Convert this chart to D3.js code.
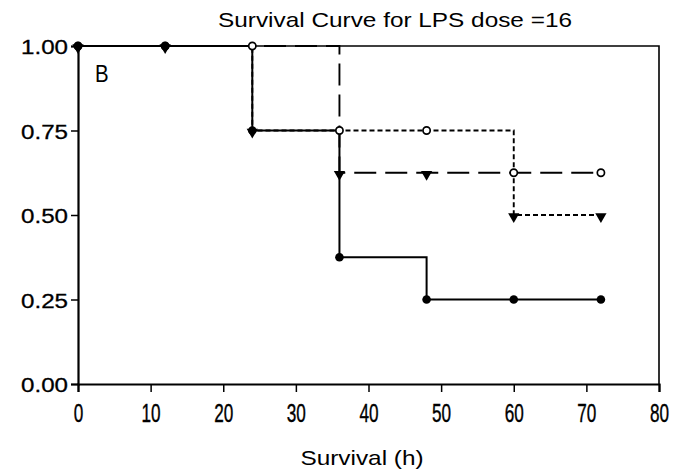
<!DOCTYPE html>
<html>
<head>
<meta charset="utf-8">
<script src="https://cdn.jsdelivr.net/npm/d3@7"></script>
<style>
  body { margin: 0; background: #fff; }
  text { font-family: "Liberation Sans", Arial, sans-serif; fill: #000; }
</style>
</head>
<body>
<svg id="chart"></svg>
<script>
// time points (h)
var times = [0, 12, 24, 36, 48, 60, 72];

// survival fraction for each curve
var survSolid     = [1, 1, 0.75, 0.375, 0.25, 0.25, 0.25];
var survLongDash  = [1, 1, 1, 0.625, 0.625, 0.625, 0.625];
var survShortDash = [1, 1, 0.75, 0.75, 0.75, 0.5, 0.5];

// marker drawn at each point
var markSolid     = ["dot", "dot", "dot", "dot", "dot", "dot", "dot"];
var markLongDash  = ["open", "open", "open", "tri", "tri", "open", "open"];
var markShortDash = ["tri", "tri", "tri", "open", "open", "tri", "tri"];

var xTicks = [0, 10, 20, 30, 40, 50, 60, 70, 80];
var yTicks = [0, 0.25, 0.5, 0.75, 1];

var width = 684, height = 473;
var margin = {top: 46, right: 25, bottom: 89, left: 78};
var w = width - margin.left - margin.right,
    h = height - margin.top - margin.bottom;

var svg = d3.select("#chart")
  .attr("width", width)
  .attr("height", height);

var g = svg.append("g")
  .attr("transform", "translate(" + margin.left + "," + margin.top + ")");

var x = d3.scaleLinear().domain([0, 80]).range([0, w]);
var y = d3.scaleLinear().domain([0, 1]).range([h, 0]);

// frame top and right
g.append("path")
  .attr("d", "M0,0H" + w + "V" + h)
  .attr("fill", "none")
  .attr("stroke", "#000")
  .attr("stroke-width", 1.6);

// axes
var xAxis = g.append("g")
  .attr("transform", "translate(0," + h + ")")
  .call(d3.axisBottom(x).tickValues(xTicks).tickSize(8).tickFormat(d3.format("d")));
var yAxis = g.append("g")
  .call(d3.axisLeft(y).tickValues(yTicks).tickSize(7).tickFormat(d3.format(".2f")));

[xAxis, yAxis].forEach(function(a) {
  a.select(".domain").attr("stroke-width", 2.2);
  a.selectAll(".tick line").attr("stroke-width", 1.5);
});

xAxis.selectAll(".tick text")
  .attr("font-size", 26)
  .attr("y", 0)
  .attr("dy", 0)
  .attr("stroke", "#000")
  .attr("stroke-width", 0.4)
  .attr("transform", "translate(0,38) scale(0.66,1)");

yAxis.selectAll(".tick text")
  .attr("font-size", 21)
  .attr("x", 0)
  .attr("dy", "0.36em")
  .attr("stroke", "#000")
  .attr("stroke-width", 0.3)
  .attr("transform", "translate(-10,0) scale(1.15,1)");

// curves
var curves = [
  {surv: survLongDash,  marks: markLongDash,  dash: "22,9", sw: 1.9},
  {surv: survShortDash, marks: markShortDash, dash: "5,3",  sw: 1.9},
  {surv: survSolid,     marks: markSolid,     dash: null,   sw: 2}
];

var line = d3.line()
  .x(function(d) { return x(d[0]); })
  .y(function(d) { return y(d[1]); })
  .curve(d3.curveStepAfter);

curves.forEach(function(c) {
  var pts = times.map(function(t, i) { return [t, c.surv[i], c.marks[i]]; });
  c.pts = pts;
  g.append("path")
    .datum(pts)
    .attr("d", line)
    .attr("fill", "none")
    .attr("stroke", "#000")
    .attr("stroke-width", c.sw)
    .attr("stroke-dasharray", c.dash);
});

var allPts = [];
curves.forEach(function(c) { allPts = allPts.concat(c.pts); });

// open circles first, then triangles, then filled dots
g.selectAll(".open")
  .data(allPts.filter(function(d) { return d[2] === "open"; }))
  .enter().append("circle")
  .attr("class", "open")
  .attr("cx", function(d) { return x(d[0]); })
  .attr("cy", function(d) { return y(d[1]); })
  .attr("r", 3.6)
  .attr("fill", "#fff")
  .attr("stroke", "#000")
  .attr("stroke-width", 1.7);

var tri = d3.symbol().type(d3.symbolTriangle).size(55);
g.selectAll(".tri")
  .data(allPts.filter(function(d) { return d[2] === "tri"; }))
  .enter().append("path")
  .attr("class", "tri")
  .attr("d", tri)
  .attr("transform", function(d) {
    return "translate(" + x(d[0]) + "," + (y(d[1]) + 1.5) + ") rotate(180)";
  })
  .attr("fill", "#000");

g.selectAll(".dot")
  .data(allPts.filter(function(d) { return d[2] === "dot"; }))
  .enter().append("circle")
  .attr("class", "dot")
  .attr("cx", function(d) { return x(d[0]); })
  .attr("cy", function(d) { return y(d[1]); })
  .attr("r", 4.3)
  .attr("fill", "#000");

// panel letter
g.append("text")
  .attr("transform", "translate(17,36) scale(0.85,1)")
  .attr("font-size", 24)
  .text("B");

// title
svg.append("text")
  .attr("transform", "translate(395,27) scale(1.16,1)")
  .attr("text-anchor", "middle")
  .attr("font-size", 21)
  .text("Survival Curve for LPS dose =16");

// x axis title
svg.append("text")
  .attr("transform", "translate(362,465) scale(1.16,1)")
  .attr("text-anchor", "middle")
  .attr("font-size", 21)
  .text("Survival (h)");
</script>
</body>
</html>
